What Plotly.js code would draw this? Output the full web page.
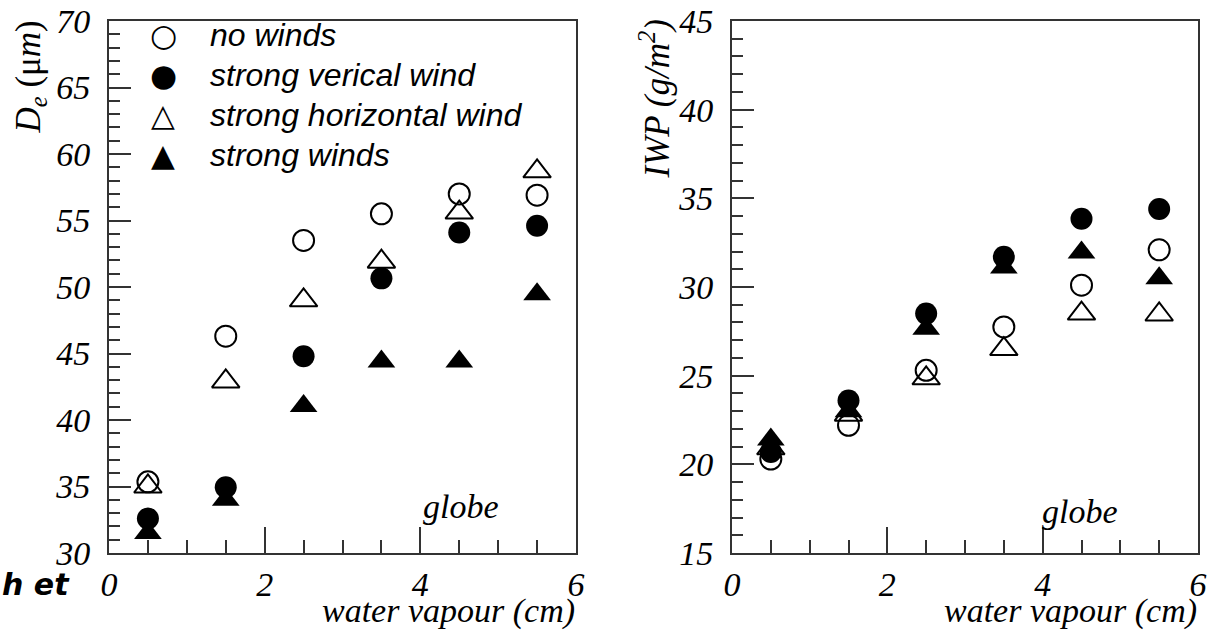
<!DOCTYPE html>
<html>
<head>
<meta charset="utf-8">
<script src="https://cdn.plot.ly/plotly-3.0.1.min.js"></script>
<style>html,body{margin:0;padding:0;background:#fff;}#chart{width:1208px;height:630px;}</style>
</head>
<body>
<div id="chart"></div>
<script>
// ---- data ----
const waterVapour = [0.5, 1.5, 2.5, 3.5, 4.5, 5.5];
const seriesNames = ["no winds", "strong verical wind", "strong horizontal wind", "strong winds"];
const legendGlyphs = ["○", "●", "△", "▲"];

const deNoWinds    = [35.35, 46.3, 53.5, 55.5, 57.0, 56.9];
const deVertical   = [32.6, 34.95, 44.8, 50.65, 54.1, 54.6];
const deHorizontal = [35.0, 42.9, 49.0, 51.9, 55.6, 58.7];
const deStrong     = [31.5, 34.0, 41.05, 44.4, 44.4, 49.45];

const iwpNoWinds    = [20.3, 22.2, 25.3, 27.75, 30.1, 32.1];
const iwpVertical   = [20.7, 23.6, 28.5, 31.7, 33.85, 34.4];
const iwpHorizontal = [20.9, 22.8, 24.85, 26.5, 28.5, 28.45];
const iwpStrong     = [21.4, 23.0, 27.65, 31.1, 31.95, 30.5];

const xTickVals = [0, 2, 4, 6];
const deTickVals = [30, 35, 40, 45, 50, 55, 60, 65, 70];
const iwpTickVals = [15, 20, 25, 30, 35, 40, 45];

// ---- styles ----
const W = 1208, H = 630;
const px = v => v / W;
const py = v => 1 - v / H;
const ink = "#000";
const serif = "Liberation Serif";
const symbols = ["circle-open", "circle", "triangle-up-open", "triangle-up"];
const sizes = [21, 22, 24, 24];

function traces(yarrs, xa, ya) {
  return yarrs.map((yv, i) => ({
    type: "scatter", mode: "markers", x: waterVapour, y: yv,
    xaxis: xa, yaxis: ya, name: seriesNames[i], showlegend: false,
    marker: { symbol: symbols[i], size: sizes[i], color: "#000",
              line: { color: "#000", width: i % 2 === 0 ? 2 : 0 } }
  }));
}

const data = [
  ...traces([deNoWinds, deVertical, deHorizontal, deStrong], "x", "y"),
  ...traces([iwpNoWinds, iwpVertical, iwpHorizontal, iwpStrong], "x2", "y2")
];

function tickFont() { return { family: serif, size: 34, color: ink, style: "italic" }; }
function xAxis(domain, anchor) {
  return {
    domain: domain, anchor: anchor, range: [0, 6], tickmode: "array", tickvals: xTickVals,
    ticktext: xTickVals.map(String), ticks: "inside", ticklen: 26,
    tickwidth: 2, tickcolor: "#333", showline: true, linewidth: 2, linecolor: "#333",
    mirror: true, showgrid: false, zeroline: false, tickfont: tickFont(),
    ticklabelstandoff: 0, fixedrange: true,
    minor: { dtick: 0.5, tick0: 0, ticks: "inside", ticklen: 13, tickwidth: 2, tickcolor: "#333", showgrid: false }
  };
}
function yAxis(domain, anchor, range, tv) {
  return {
    domain: domain, anchor: anchor, range: range, tickmode: "array", tickvals: tv,
    ticktext: tv.map(String), ticks: "inside", ticklen: 22,
    tickwidth: 2, tickcolor: "#333", showline: true, linewidth: 2, linecolor: "#333",
    mirror: true, showgrid: false, zeroline: false, tickfont: tickFont(),
    ticklabelstandoff: 10, fixedrange: true,
    minor: { dtick: 1, tick0: 0, ticks: "inside", ticklen: 11, tickwidth: 2, tickcolor: "#333", showgrid: false }
  };
}

const yDom = [py(553), py(21)];
const annotations = [];
// legend (manual, inside left panel)
const legendRows = [35, 75, 115, 155];
seriesNames.forEach((n, i) => {
  annotations.push({ xref: "paper", yref: "paper", x: px(163), y: py(legendRows[i]),
    xanchor: "center", yanchor: "middle", showarrow: false, text: legendGlyphs[i],
    font: { family: "DejaVu Sans", size: 31, color: "#000" } });
  annotations.push({ xref: "paper", yref: "paper", x: px(208), y: py(legendRows[i]),
    xanchor: "left", yanchor: "middle", showarrow: false, text: n,
    font: { family: "Liberation Sans", size: 32, color: "#000", style: "italic" } });
});
// axis titles
annotations.push({ xref: "paper", yref: "paper", x: px(577), y: py(611), xanchor: "right", yanchor: "middle",
  showarrow: false, text: "water vapour (cm)", font: { family: serif, size: 34, color: ink, style: "italic" } });
annotations.push({ xref: "paper", yref: "paper", x: px(1199), y: py(611), xanchor: "right", yanchor: "middle",
  showarrow: false, text: "water vapour (cm)", font: { family: serif, size: 34, color: ink, style: "italic" } });
annotations.push({ xref: "paper", yref: "paper", x: px(30), y: py(18), xanchor: "center", yanchor: "top",
  textangle: -90, showarrow: false, text: "<i>D</i><sub><i>e</i></sub> (μ<i>m</i>)",
  font: { family: serif, size: 35, color: ink } });
annotations.push({ xref: "paper", yref: "paper", x: px(655), y: py(18), xanchor: "center", yanchor: "top",
  textangle: -90, showarrow: false, text: "IWP (g/m<sup>2</sup>)",
  font: { family: serif, size: 35, color: ink, style: "italic" } });
// panel labels
annotations.push({ xref: "paper", yref: "paper", x: px(461), y: py(506), xanchor: "center", yanchor: "middle",
  showarrow: false, text: "globe", font: { family: serif, size: 34, color: ink, style: "italic" } });
annotations.push({ xref: "paper", yref: "paper", x: px(1080), y: py(511), xanchor: "center", yanchor: "middle",
  showarrow: false, text: "globe", font: { family: serif, size: 34, color: ink, style: "italic" } });
// cropped caption fragment
annotations.push({ xref: "paper", yref: "paper", x: px(0), y: py(584), xanchor: "left", yanchor: "middle",
  showarrow: false, text: "<b>h et</b>", font: { family: "DejaVu Sans", size: 30, color: "#000", style: "italic" } });

const layout = {
  width: W, height: H, margin: { l: 0, r: 0, t: 0, b: 0 },
  paper_bgcolor: "#fff", plot_bgcolor: "#fff", showlegend: false,
  xaxis: xAxis([px(109), px(576)], "y"),
  yaxis: yAxis(yDom, "x", [30, 70], deTickVals),
  xaxis2: xAxis([px(732), px(1198)], "y2"),
  yaxis2: yAxis(yDom, "x2", [15, 45], iwpTickVals),
  annotations: annotations
};

Plotly.newPlot("chart", data, layout, { displayModeBar: false, staticPlot: true });
</script>
</body>
</html>
